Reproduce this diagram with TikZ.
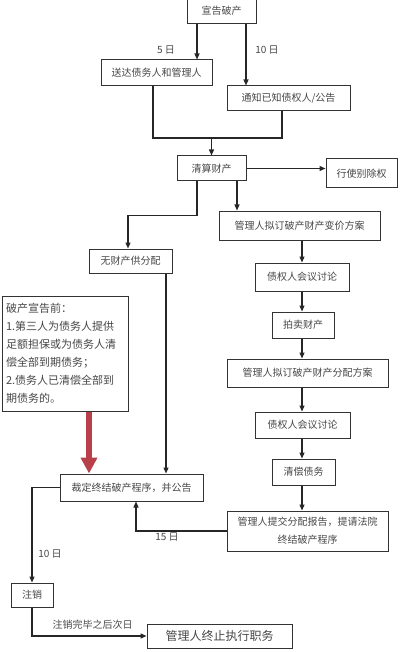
\documentclass[tikz,border=0pt]{standalone}
\usepackage{fontspec}
\setmainfont{Noto Sans CJK SC}
\usetikzlibrary{arrows.meta, calc}
\definecolor{boxline}{HTML}{333333}
\definecolor{boxtext}{HTML}{474747}
\definecolor{warnred}{HTML}{B8404A}
\tikzset{
  blk/.style    = {rectangle, draw=boxline, fill=white, line width=1pt,
                   align=center, text=boxtext, font=\fontsize{10}{18}\selectfont, inner sep=0pt},
  notebox/.style= {blk, align=left, font=\fontsize{11}{18}\selectfont, inner sep=4pt},
  lbl/.style    = {font=\fontsize{10}{12}\selectfont, text=boxtext},
  flow/.style   = {-{Triangle[length=6pt,width=5pt]}, line width=1.3pt, draw=black!85},
  link/.style   = {line width=1.3pt, draw=black!85},
  redflow/.style= {-{Triangle[length=16pt,width=16pt]}, line width=6pt, draw=warnred},
}
\begin{document}
\begin{tikzpicture}[x=1pt, y=-1pt]
  \useasboundingbox (0,0) rectangle (401,652);
  % ---- boxes ----
  \node[blk, minimum width=69pt,  minimum height=26pt] (xuan)      at (221.5,11)  {宣告破产};
  \node[blk, minimum width=111pt, minimum height=26pt] (songda)    at (156.5,73)  {送达债务人和管理人};
  \node[blk, minimum width=123pt, minimum height=25pt] (tongzhi)   at (288.5,98.5) {通知已知债权人/公告};
  \node[blk, minimum width=69pt,  minimum height=25pt] (qingsuan)  at (211.5,168.5) {清算财产};
  \node[blk, minimum width=71pt,  minimum height=29pt] (biechu)    at (361.5,173.5) {行使别除权};
  \node[blk, minimum width=161pt, minimum height=29pt] (bianjia)   at (299.5,225.5) {管理人拟订破产财产变价方案};
  \node[blk, minimum width=83pt,  minimum height=24pt] (wucc)      at (130.5,261) {无财产供分配};
  \node[blk, minimum width=94pt,  minimum height=28pt] (taolunA)   at (302,277)   {债权人会议讨论};
  \node[blk, minimum width=62pt,  minimum height=26pt] (paimai)    at (303,325)   {拍卖财产};
  \node[blk, minimum width=161pt, minimum height=28pt] (fenpei)    at (307.5,373) {管理人拟订破产财产分配方案};
  \node[blk, minimum width=95pt,  minimum height=26pt] (taolunB)   at (302.5,425) {债权人会议讨论};
  \node[blk, minimum width=63pt,  minimum height=26pt] (qingchang) at (303.5,472) {清偿债务};
  \node[blk, minimum width=161pt, minimum height=40pt] (baogao)    at (307.5,531) {管理人提交分配报告，提请法院\\终结破产程序};
  \node[blk, minimum width=143pt, minimum height=27pt] (caiding)   at (131.5,487.5) {裁定终结破产程序，并公告};
  \node[notebox, text width=118pt, minimum height=115pt] (cond)    at (65,353.5)
    {破产宣告前：\\1.第三人为债务人提供\\足额担保或为债务人清\\偿全部到期债务；\\2.债务人已清偿全部到\\期债务的。};
  \node[blk, minimum width=42pt,  minimum height=24pt] (zhuxiao)   at (32,595)    {注销};
  \node[blk, minimum width=145pt, minimum height=24pt, font=\fontsize{12}{14}\selectfont] (zhongzhi) at (219.5,636) {管理人终止执行职务};
  % ---- labels ----
  \node[lbl] (d5)   at (166,50)  {5 日};
  \node[lbl] (d10a) at (267,50)  {10 日};
  \node[lbl] (d15)  at (167,537) {15 日};
  \node[lbl] (d10b) at (50,554)  {10 日};
  \node[lbl] (next) at (92.5,625) {注销完毕之后次日};
  % ---- connectors ----
  \coordinate (hub) at (211.5,138);
  \coordinate (col) at (302,0);
  \draw[flow] ([xshift=-24.5pt]xuan.south) -- ([xshift=-24.5pt]xuan.south |- songda.north);
  \draw[flow] ([xshift=24.5pt]xuan.south) -- ([xshift=24.5pt]xuan.south |- tongzhi.north);
  \draw[link] ([xshift=-3.5pt]songda.south) |- (hub);
  \draw[link] ([xshift=-6.5pt]tongzhi.south) |- (hub);
  \draw[flow] (hub) -- (qingsuan.north);
  \draw[flow] (qingsuan.east) -- (qingsuan.east -| biechu.west);
  \draw[flow] ([xshift=-14.5pt]qingsuan.south) -- ++(0,34) -| ([xshift=-2.5pt]wucc.north);
  \draw[flow] ([xshift=25.5pt]qingsuan.south) -- ([xshift=25.5pt]qingsuan.south |- bianjia.north);
  \foreach \a/\b in {bianjia/taolunA, taolunA/paimai, paimai/fenpei, fenpei/taolunB, taolunB/qingchang, qingchang/baogao}
    {\draw[flow] (\a.south -| col) -- (\b.north -| col);}
  \draw[flow] (baogao.west) -| ([xshift=4.5pt]caiding.south);
  \draw[flow] ([xshift=35.5pt]wucc.south) -- ([xshift=35.5pt]wucc.south |- caiding.north);
  \draw[redflow] ([xshift=24pt]cond.south) -- ([xshift=24pt]cond.south |- caiding.north);
  \draw[flow] (caiding.west) -| (zhuxiao.north);
  \draw[flow] (zhuxiao.south) |- (zhongzhi.west);
\end{tikzpicture}
\end{document}
